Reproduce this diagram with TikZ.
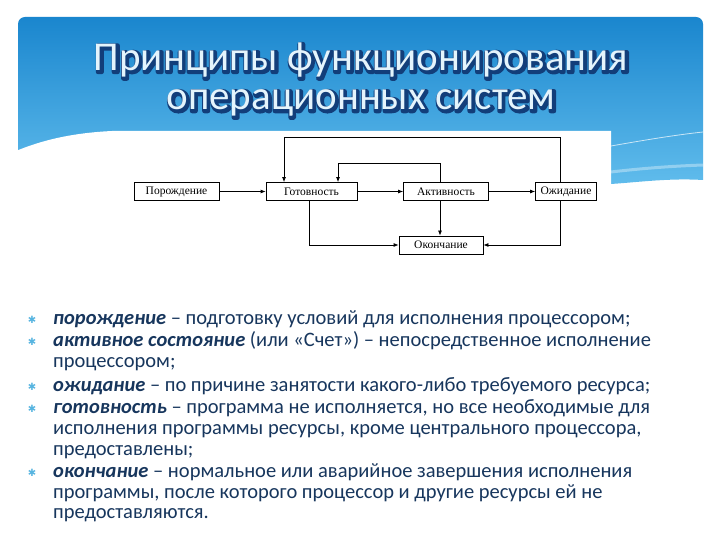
\documentclass[tikz,border=0pt]{standalone}
\usepackage{fontspec}
\setmainfont{Carlito}
\newfontfamily\diafont{Liberation Serif}
\newfontfamily\symfont{DejaVu Sans}
\newfontfamily\ttlbold[FakeBold=11]{Carlito}
\usetikzlibrary{arrows.meta,calc}
\definecolor{hdrtop}{RGB}{26,134,206}
\definecolor{hdrbot}{RGB}{96,188,236}
\definecolor{navy}{RGB}{23,54,93}
\definecolor{bul}{RGB}{86,180,224}
\definecolor{tout}{RGB}{18,62,122}
\definecolor{tfill}{RGB}{228,244,252}
\tikzset{
  box/.style={draw, line width=0.8pt, font=\diafont\fontsize{11.5}{13}\selectfont, minimum height=18pt, inner sep=0pt},
  conn/.style={line width=0.8pt, -{Latex[length=5pt,width=4pt]}},
  titlef/.style={font=\fontsize{41}{46}\selectfont, inner sep=0pt, anchor=center},
  titleo/.style={font=\ttlbold\fontsize{41}{46}\selectfont, inner sep=0pt, anchor=center, text=tout, line join=round},
  btxt/.style={font=\fontsize{20.5}{24}\selectfont, text=navy, anchor=base west, inner sep=0pt},
  bmark/.style={font=\symfont\fontsize{10}{12}\selectfont, text=bul, anchor=base, inner sep=0pt}
}
\newcommand\term[1]{\textbf{\textit{#1}}}
\begin{document}
\begin{tikzpicture}[x=1pt,y=-1pt]
\useasboundingbox (0,0) rectangle (720,540);
\fill[white] (0,0) rectangle (720,540);
% header
\shade[top color=hdrtop, bottom color=hdrbot] (18,182) [rounded corners=7pt] -- (18,17) -- (703,17) [sharp corners] -- (703,180) .. controls (670,178) and (640,182) .. (611,184) -- cycle;
\fill[white] (16,151) .. controls (40,141) and (70,133) .. (112,131) -- (611,131) -- (611,190) -- (16,190) -- cycle;
\draw[white, opacity=0.7, line width=0.8pt] (611,146) .. controls (645,140) and (675,135) .. (703,132);
\draw[white, opacity=0.35, line width=3pt] (611,172) .. controls (645,168) and (675,166) .. (703,165);
% title
\begin{scope}[line join=round]
\node[titleo] (tao) at (362.2,61.4) {Принципы функционирования};
\node[titleo] (tbo) at (362.2,104.4) {операционных систем};
\end{scope}
\node[titlef, text=tfill] (ta) at (361,60) {Принципы функционирования};
\node[titlef, text=tfill] (tb) at (361,103) {операционных систем};
% diagram
\node[box, minimum width=85pt] (por) at (176.5,191.5) {Порождение};
\node[box, minimum width=91pt] (got) at (311.5,191.5) {Готовность};
\node[box, minimum width=85pt] (akt) at (446,191.5) {Активность};
\node[box, minimum width=61pt] (ozh) at (566,191.5) {Ожидание};
\node[box, minimum width=84pt] (oko) at (441,245) {Окончание};
\coordinate (c1) at (560,137);
\coordinate (c2) at (284,137);
\coordinate (c3) at (440,163);
\coordinate (c4) at (338,163);
\coordinate (c5) at (309,245);
\coordinate (c6) at (560,245);
\draw[conn] (por) -- (got);
\draw[conn] (got) -- (akt);
\draw[conn] (akt) -- (ozh);
\draw[conn] (ozh.north -| c1) -- (c1) -- (c2) -- (got.north -| c2);
\draw[conn] (akt.north -| c3) -- (c3) -- (c4) -- (got.north -| c4);
\draw[conn] (akt.south -| c3) -- (oko.north -| c3);
\draw[conn] (got.south -| c5) -- (c5) -- (oko.west);
\draw[conn] (ozh.south -| c6) -- (c6) -- (oko.east);
% bullets
\foreach \y [count=\i] in {324,346,391,413,477}{
  \node[bmark] (m\i) at (32,\y-1) {✱};
}
\node[btxt] (l1) at (53,324) {\term{порождение} – подготовку условий для исполнения процессором;};
\node[btxt] (l2) at (53,346) {\term{активное состояние} (или «Счет») – непосредственное исполнение};
\node[btxt] (l3) at (53,367) {процессором;};
\node[btxt] (l4) at (53,391) {\term{ожидание} – по причине занятости какого-либо требуемого ресурса;};
\node[btxt] (l5) at (53,413) {\term{готовность} – программа не исполняется, но все необходимые для};
\node[btxt] (l6) at (53,434) {исполнения программы ресурсы, кроме центрального процессора,};
\node[btxt] (l7) at (53,455) {предоставлены;};
\node[btxt] (l8) at (53,477) {\term{окончание} – нормальное или аварийное завершения исполнения};
\node[btxt] (l9) at (53,498) {программы, после которого процессор и другие ресурсы ей не};
\node[btxt] (l10) at (53,518) {предоставляются.};
\end{tikzpicture}
\end{document}
